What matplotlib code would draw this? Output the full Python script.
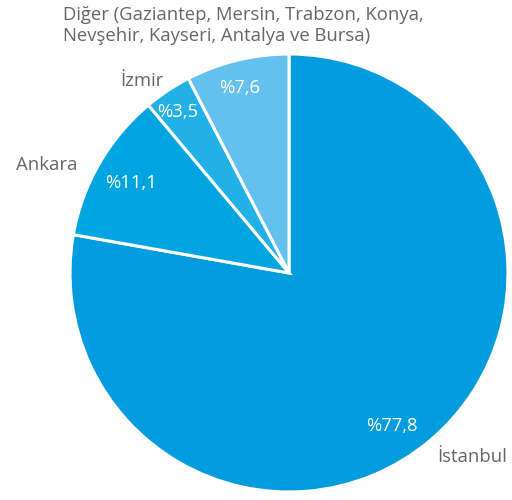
import numpy as np
import matplotlib
matplotlib.use("Agg")
import matplotlib.pyplot as plt

plt.rcParams["font.family"] = ["Open Sans", "DejaVu Sans"]

# ------------------------- veri -------------------------------------------- #
cities = ["İstanbul", "Ankara", "İzmir",
          "Diğer (Gaziantep, Mersin, Trabzon, Konya,\nNevşehir, Kayseri, Antalya ve Bursa)"]
shares = [77.8, 11.1, 3.5, 7.6]
colors = ["#009cde", "#00a4e0", "#22b1e6", "#64c0ec"]

# label layout (data units, radius = 1)
pct_pos = [(0.47, -0.70), (-0.72, 0.41), (-0.51, 0.735), (-0.224, 0.845)]
name_pos = [(0.676, -0.84, "left"), (-0.968, 0.493, "right"),
            (-0.575, 0.877, "right"), (-1.032, 1.13, "left")]

# ------------------------- figür ------------------------------------------- #
fig = plt.figure(figsize=(5.12, 5.00), dpi=100)
cx, cy, r = 289, 273, 219
ax = fig.add_axes([(cx - r) / 512, (500 - cy - r) / 500, 2 * r / 512, 2 * r / 500])

ax.pie(shares, colors=colors, startangle=90, counterclock=False, radius=1,
       wedgeprops=dict(edgecolor="white", linewidth=2.2))
ax.set_xlim(-1, 1)
ax.set_ylim(-1, 1)
ax.set_aspect("auto")
ax.axis("off")

for v, (x, y) in zip(shares, pct_pos):
    ax.text(x, y, f"%{v:.1f}".replace(".", ","), color="white", fontsize=13.3,
            ha="center", va="center", clip_on=False)

for name, (x, y, ha) in zip(cities, name_pos):
    ax.text(x, y, name, color="#666666", fontsize=13.3, ha=ha, va="center",
            linespacing=1.2, clip_on=False)

fig.savefig("out.png", dpi=100)
